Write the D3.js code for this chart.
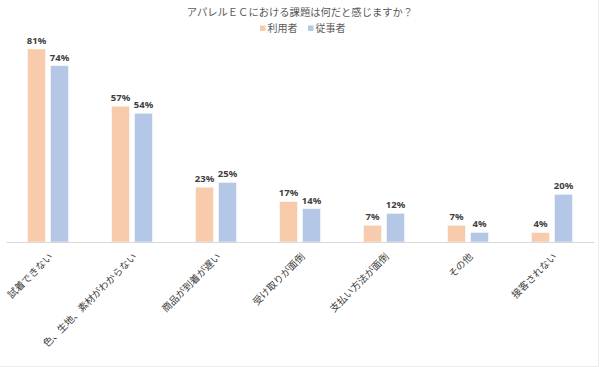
<!DOCTYPE html>
<html><head><meta charset="utf-8">
<script src="https://cdn.jsdelivr.net/npm/d3@7/dist/d3.min.js"></script>
<style>body{margin:0;background:#fff}svg{display:block}</style>
</head><body>
<svg id="c" width="600" height="367"></svg>
<script>
const title = "アパレルＥＣにおける課題は何だと感じますか？";
const categories = ["試着できない","色、生地、素材がわからない","商品が到着が遅い","受け取りが面倒","支払い方法が面倒","その他","接客されない"];
const seriesNames = ["利用者","従事者"];
const users = [81,57,23,17,7,7,4];
const workers = [74,54,25,14,12,4,20];
const colors = ["#F8CBAD","#B4C7E7"];

const svg = d3.select("#c");
const font = "'Noto Sans CJK JP','Noto Sans',sans-serif";
const x0 = d3.scaleBand().domain(categories).range([6,594]).paddingInner(0).paddingOuter(0);
const y = d3.scaleLinear().domain([0,100]).range([242, 242-238.3]);
const barW = 18, gap = 5;

// frame
svg.append("line").attr("x1",598.5).attr("x2",598.5).attr("y1",0).attr("y2",366.5).attr("stroke","#ECECEC");
svg.append("line").attr("x1",0).attr("x2",598.5).attr("y1",366.5).attr("y2",366.5).attr("stroke","#ECECEC");

svg.append("text").attr("x",300).attr("y",16).attr("text-anchor","middle")
  .attr("font-family",font).attr("font-size",10.3).attr("fill","#595959").text(title);

// legend
const leg = [{n:seriesNames[0],c:colors[0],x:260},{n:seriesNames[1],c:colors[1],x:308}];
leg.forEach(l=>{
  svg.append("rect").attr("x",l.x).attr("y",25.5).attr("width",5.5).attr("height",5.5).attr("fill",l.c);
  svg.append("text").attr("x",l.x+7.5).attr("y",32).attr("font-family",font).attr("font-size",10)
    .attr("fill","#595959").text(l.n);
});

const series = [users, workers];
series.forEach((vals,si)=>{
  const g = svg.append("g");
  categories.forEach((cat,i)=>{
    const cx = x0(cat)+x0.bandwidth()/2;
    const bx = si===0 ? cx - gap/2 - barW : cx + gap/2;
    g.append("rect").attr("x",bx).attr("y",y(vals[i])).attr("width",barW).attr("height",y(0)-y(vals[i]))
      .attr("fill",colors[si]).attr("stroke","#fff").attr("stroke-opacity",0.5).attr("stroke-width",1);
    g.append("text").attr("x",bx+barW/2).attr("y",y(vals[i])-5).attr("text-anchor","middle")
      .attr("font-family","'Noto Sans',sans-serif").attr("font-weight","bold").attr("font-size",9.5)
      .attr("fill","#404040").text(vals[i]+"%");
  });
});

// axis
const ax = svg.append("g").attr("transform","translate(0,242)").call(d3.axisBottom(x0).tickSize(0).tickFormat(""));
ax.select(".domain").attr("stroke","#D9D9D9");

categories.forEach(cat=>{
  const cx = x0(cat)+x0.bandwidth()/2;
  svg.append("text").attr("transform",`translate(${cx+3},${255}) rotate(-45)`)
    .attr("text-anchor","end").attr("dy","0.35em").attr("font-family",font).attr("font-size",9.8)
    .attr("fill","#404040").text(cat);
});
</script>
</body></html>
